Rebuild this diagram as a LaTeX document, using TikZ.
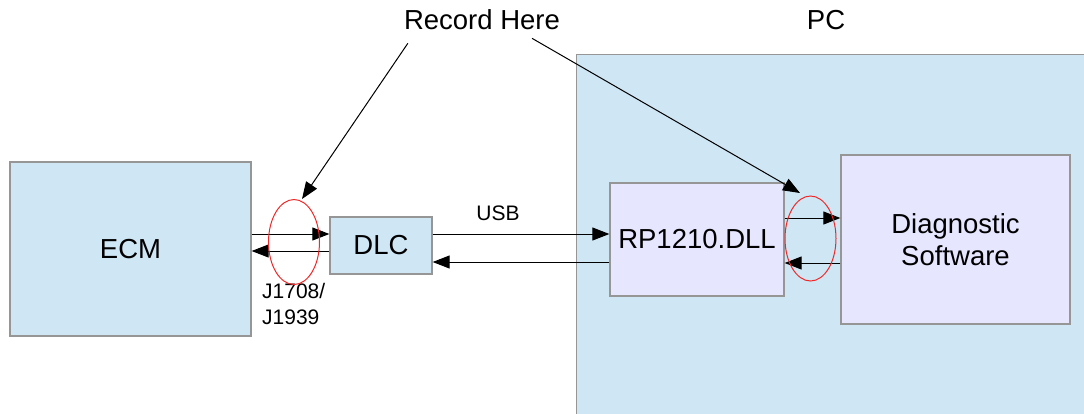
\documentclass[tikz,border=0pt]{standalone}
\usepackage{fontspec}
\setmainfont{Liberation Sans}
\usetikzlibrary{arrows.meta,calc,shapes.geometric}
\definecolor{boxblue}{RGB}{207,230,245}
\definecolor{boxlav}{RGB}{230,230,255}
\definecolor{edgegray}{RGB}{150,150,150}
\definecolor{ringred}{RGB}{240,40,40}
\tikzset{
  blockbox/.style={draw=edgegray, line width=1.3bp, fill=#1, inner sep=0pt,
    font=\fontsize{27.5bp}{32bp}\selectfont, align=center},
  wire/.style={draw=black, line width=1bp,
    -{Triangle[length=17bp,width=13bp]}},
  ring/.style={ellipse, draw=ringred, line width=1bp, inner sep=0pt,
    minimum width=51bp, minimum height=85bp},
  biglabel/.style={font=\fontsize{27.5bp}{32bp}\selectfont, inner sep=0pt},
  smalllabel/.style={font=\fontsize{21bp}{26bp}\selectfont, inner sep=0pt, align=left}
}
\begin{document}
\begin{tikzpicture}[x=1bp,y=-1bp]
\clip (0,0) rectangle (1084,413);
\fill[white] (0,0) rectangle (1084,413);

% PC enclosure
\node[blockbox=boxblue, minimum width=520bp, minimum height=370bp, anchor=north west] (pc) at (576,54) {};
\node[biglabel] (pclabel) at (826,20) {PC};

% blocks
\node[blockbox=boxblue, minimum width=241bp, minimum height=174bp] (ecm) at (130.5,249) {ECM};
\node[blockbox=boxblue, minimum width=102bp, minimum height=57bp] (dlc) at (381,245.5) {DLC};
\node[blockbox=boxlav, minimum width=174bp, minimum height=113bp] (rp) at (697,239.5) {RP1210.DLL};
\node[blockbox=boxlav, minimum width=229bp, minimum height=169bp] (diag) at (955.5,239.5) {Diagnostic\\Software};

% labels
\node[biglabel] (rec) at (482,20) {Record Here};
\node[smalllabel] (usb) at (498,213) {USB};
\node[smalllabel, anchor=north west] (jbus) at (262,283) {J1708/\\J1939};

% links
\draw[wire] ([yshift=15bp]ecm.east) -- ([yshift=15bp]ecm.east -| dlc.west);
\draw[wire] ([yshift=-5.5bp]dlc.west) -- ([yshift=-5.5bp]dlc.west -| ecm.east);
\draw[wire] ([yshift=11.5bp]dlc.east) -- ([yshift=11.5bp]dlc.east -| rp.west);
\draw[wire] ([yshift=-22.5bp]rp.west) -- ([yshift=-22.5bp]rp.west -| dlc.east);
\draw[wire] ([yshift=21.5bp]rp.east) -- ([yshift=21.5bp]rp.east -| diag.west);
\draw[wire] ([yshift=-23.5bp]diag.west) -- ([yshift=-23.5bp]diag.west -| rp.east);

% capture points
\coordinate (tapL) at (302,199);
\coordinate (tapR) at (800,193);
\draw[wire] ([xshift=4bp,yshift=-13bp]rec.south west) -- (tapL);
\draw[wire] ([xshift=50bp,yshift=-8bp]rec.south) -- (tapR);

\node[ring] (ringL) at (294,242) {};
\node[ring] (ringR) at (810.5,238.5) {};
\end{tikzpicture}
\end{document}
